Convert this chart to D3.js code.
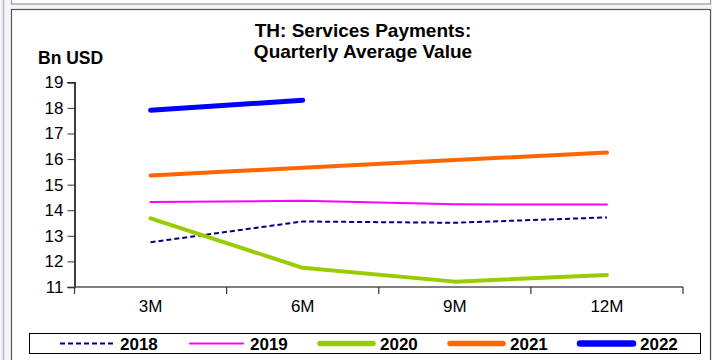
<!DOCTYPE html>
<html>
<head>
<meta charset="utf-8">
<script src="https://cdn.jsdelivr.net/npm/d3@7"></script>
<style>
  html, body { margin: 0; padding: 0; background: #f4f4fa; }
  svg { display: block; font-family: "Liberation Sans", Arial, sans-serif; }
</style>
</head>
<body>
<svg id="chart" width="712" height="360"></svg>
<script>
// Quarterly average value of services payments, Bn USD
const periods = ["3M", "6M", "9M", "12M"];
const years = ["2018", "2019", "2020", "2021", "2022"];
const v2018 = [12.75, 13.56, 13.51, 13.72];
const v2019 = [14.32, 14.37, 14.23, 14.22];
const v2020 = [13.68, 11.75, 11.21, 11.47];
const v2021 = [15.36, 15.66, 15.96, 16.26];
const v2022 = [17.91, 18.30];
const yTicks = [11, 12, 13, 14, 15, 16, 17, 18, 19];

const seriesStyle = {
  "2018": { color: "#000080", width: 2, dash: "5,3" },
  "2019": { color: "#ff00ff", width: 2, dash: null },
  "2020": { color: "#99cc00", width: 4, dash: null },
  "2021": { color: "#ff6600", width: 4, dash: null },
  "2022": { color: "#0000ff", width: 5, dash: null }
};
const seriesValues = { "2018": v2018, "2019": v2019, "2020": v2020, "2021": v2021, "2022": v2022 };

const svg = d3.select("#chart");

// surrounding panels
svg.append("rect").attr("x", 0).attr("y", 0).attr("width", 712).attr("height", 360).attr("fill", "#f4f4fa");
svg.append("line").attr("x1", 3.5).attr("x2", 3.5).attr("y1", 0).attr("y2", 360).attr("stroke", "#b8b8b8").attr("stroke-width", 1.5);
svg.append("rect").attr("x", 11.5).attr("y", -20).attr("width", 699).attr("height", 24)
  .attr("fill", "#ffffff").attr("stroke", "#9a9a9a").attr("stroke-width", 1.2);
svg.append("rect").attr("x", 11.5).attr("y", 9.5).attr("width", 699).attr("height", 360)
  .attr("fill", "#ffffff").attr("stroke", "#555").attr("stroke-width", 1.2);

const plot = { left: 74.5, right: 683, top: 82.3, bottom: 287 };

const x = d3.scaleBand().domain(periods).range([plot.left, plot.right]).padding(0);
const y = d3.scaleLinear().domain([11, 19]).range([plot.bottom, plot.top]);

// title
svg.append("text").attr("x", 363).attr("y", 37).attr("text-anchor", "middle")
  .attr("font-size", 19).attr("font-weight", "bold").text("TH: Services Payments:");
svg.append("text").attr("x", 363).attr("y", 58).attr("text-anchor", "middle")
  .attr("font-size", 19).attr("font-weight", "bold").text("Quarterly Average Value");
svg.append("text").attr("x", 38).attr("y", 64)
  .attr("font-size", 17.5).attr("font-weight", "bold").text("Bn USD");

// y axis
const yAxis = d3.axisLeft(y).tickValues(yTicks).tickSize(7).tickPadding(4).tickFormat(d3.format("d"));
const gy = svg.append("g").attr("transform", `translate(${plot.left},0)`).call(yAxis);
gy.select(".domain").attr("stroke", "#000").attr("stroke-width", 1.5);
gy.selectAll(".tick line").attr("stroke", "#333");
gy.selectAll(".tick text").attr("font-size", 17).attr("font-family", "Liberation Sans, Arial, sans-serif").attr("fill", "#000");

// x axis with ticks between categories
const gx = svg.append("g").attr("transform", `translate(0,${plot.bottom})`);
gx.append("line").attr("x1", plot.left).attr("x2", plot.right).attr("y1", 0).attr("y2", 0)
  .attr("stroke", "#555").attr("stroke-width", 1.5);
const bounds = periods.map(p => x(p)).concat([plot.right]);
gx.selectAll("line.tk").data(bounds).enter().append("line").attr("class", "tk")
  .attr("x1", d => d).attr("x2", d => d).attr("y1", 0).attr("y2", 7)
  .attr("stroke", "#333").attr("stroke-width", 1.2);
gx.selectAll("text").data(periods).enter().append("text")
  .attr("x", d => x(d) + x.bandwidth() / 2).attr("y", 25).attr("text-anchor", "middle")
  .attr("font-size", 17).text(d => d);

// series lines
const line = d3.line().x((d, i) => x(periods[i]) + x.bandwidth() / 2).y(d => y(d));
years.forEach(yr => {
  const s = seriesStyle[yr];
  svg.append("path").datum(seriesValues[yr]).attr("d", line)
    .attr("fill", "none").attr("stroke", s.color).attr("stroke-width", s.width)
    .attr("stroke-linecap", s.dash ? "butt" : "round").attr("stroke-linejoin", "round")
    .attr("stroke-dasharray", s.dash);
});

// legend
svg.append("rect").attr("x", 29.5).attr("y", 333.5).attr("width", 671).attr("height", 20)
  .attr("fill", "#fff").attr("stroke", "#000").attr("stroke-width", 1);
const legendX = [60, 190, 320, 450, 580];
years.forEach((yr, i) => {
  const s = seriesStyle[yr];
  const lx = legendX[i];
  svg.append("line").attr("x1", lx).attr("x2", lx + 53).attr("y1", 343.5).attr("y2", 343.5)
    .attr("stroke", s.color).attr("stroke-width", s.width + (i >= 2 ? 1.5 : 0))
    .attr("stroke-linecap", s.dash ? "butt" : "round").attr("stroke-dasharray", s.dash);
  svg.append("text").attr("x", lx + 60).attr("y", 349.5).attr("font-size", 17)
    .attr("font-weight", "bold").text(yr);
});
</script>
</body>
</html>
